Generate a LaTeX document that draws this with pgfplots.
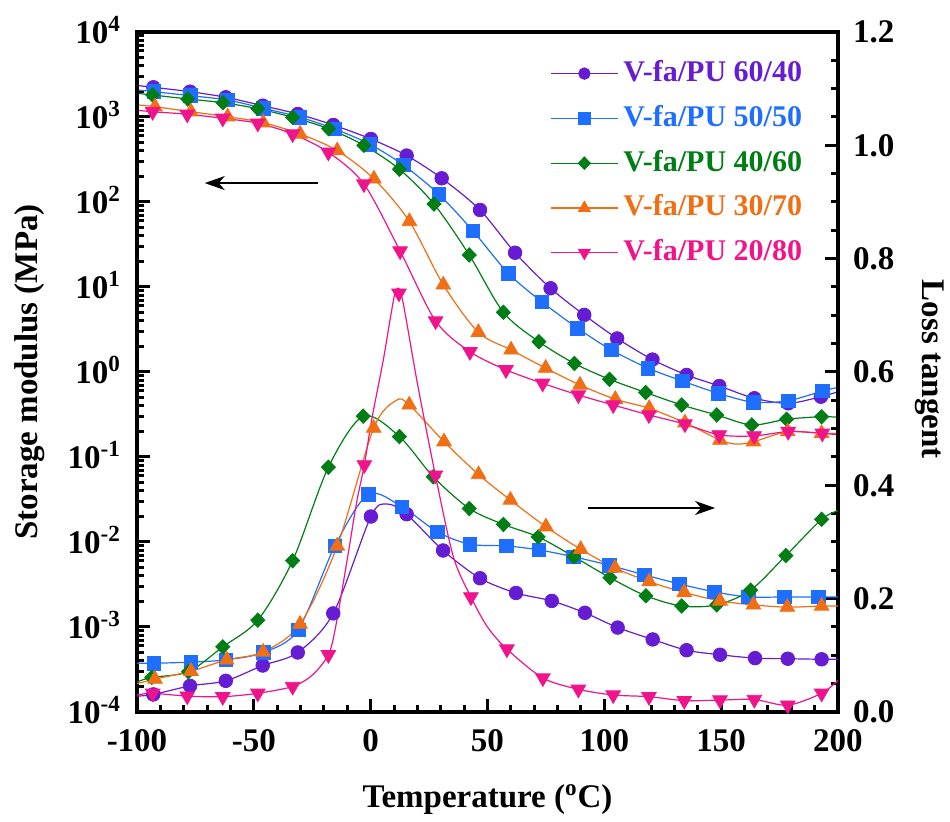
\documentclass[border=0pt]{standalone}
\usepackage{fontspec}
\setmainfont{Liberation Serif}
\usepackage{pgfplots}
\pgfplotsset{compat=1.18}
\usetikzlibrary{arrows.meta}
\definecolor{cpur}{RGB}{102,28,210}
\definecolor{cblu}{RGB}{30,110,255}
\definecolor{cgrn}{RGB}{0,125,20}
\definecolor{corg}{RGB}{240,110,20}
\definecolor{cpnk}{RGB}{240,20,140}
\begin{document}
\begin{tikzpicture}
\pgfplotsset{
  common/.style={
    scale only axis, width=350.5pt, height=340pt,
    xmin=-100, xmax=200,
    axis line style={line width=2pt},
    every tick/.style={black, line width=1.5pt},
    major tick length=6.5pt, minor tick length=3.5pt,
    tick align=inside,
    /pgf/number format/assume math mode=true,
    tick label style={font=\fontsize{16.5}{18}\selectfont\bfseries},
    legend image code/.code={\draw[mark repeat=2,mark phase=2] plot coordinates {(0pt,0pt)(16.75pt,0pt)(33.5pt,0pt)};},
  },
  sline/.style={line width=0.6pt, smooth, forget plot},
}
\begin{axis}[common,
  ymode=log, ymin=1e-4, ymax=1e4,
  xtick={-100,-50,0,50,100,150,200}, xticklabels={-100,-50,0,50,100,150,200},
  minor x tick num=4,
  xtick pos=bottom, ytick pos=left,
  ytick={1e-4,1e-3,1e-2,1e-1,1,1e1,1e2,1e3,1e4},
  yticklabels={10\textsuperscript{-4},10\textsuperscript{-3},10\textsuperscript{-2},10\textsuperscript{-1},10\textsuperscript{0},10\textsuperscript{1},10\textsuperscript{2},10\textsuperscript{3},10\textsuperscript{4}},
  minor ytick={2e-4,3e-4,4e-4,5e-4,6e-4,7e-4,8e-4,9e-4,2e-3,3e-3,4e-3,5e-3,6e-3,7e-3,8e-3,9e-3,2e-2,3e-2,4e-2,5e-2,6e-2,7e-2,8e-2,9e-2,0.2,0.3,0.4,0.5,0.6,0.7,0.8,0.9,2,3,4,5,6,7,8,9,20,30,40,50,60,70,80,90,200,300,400,500,600,700,800,900,2000,3000,4000,5000,6000,7000,8000,9000},
  xticklabel style={yshift=-5pt},
  yticklabel style={xshift=-4.5pt, yshift=1pt},
  xlabel={Temperature (\textsuperscript{o}C)},
  ylabel={Storage modulus (MPa)},
  every axis x label/.style={at={(axis description cs:0.5,-0.129)}, anchor=center, font=\fontsize{16.5}{18}\selectfont\bfseries},
  every axis y label/.style={at={(axis description cs:-0.1526,0.5)}, rotate=90, anchor=center, font=\fontsize{16.5}{18}\selectfont\bfseries},
  legend style={at={(axis description cs:0.589,0.96)}, anchor=north west, draw=none, fill=none, inner sep=0pt,
    font=\fontsize{15}{18}\selectfont\bfseries, row sep=8.4pt, column sep=2.5pt,
    nodes={inner sep=0pt, text height=11pt, text depth=3pt}},
  legend cell align=left,
]
% lines
\addplot[cpur, sline] coordinates {(-100,2350)(-93.0,2234)(-77.3,1985)(-62.0,1706)(-46.2,1358)(-31.2,1084)(-16.0,805)(0.1,551)(15.4,352)(30.4,190)(46.8,80.5)(61.8,25.3)(77.0,9.66)(91.4,4.69)(105.5,2.48)(120.6,1.40)(135.2,0.922)(149.2,0.684)(164.2,0.491)(178.7,0.428)(192.7,0.512)(200,0.586)};
\addplot[cblu, sline] coordinates {(-100,2080)(-92.7,1985)(-77.2,1782)(-61.4,1585)(-45.9,1265)(-30.2,991)(-15.3,722)(-0.3,477)(14.0,272)(29.2,123)(43.7,45.9)(58.9,14.5)(73.2,6.71)(88.6,3.27)(103.1,1.81)(118.7,1.11)(133.4,0.783)(148.8,0.561)(163.8,0.441)(178.7,0.459)(193.3,0.597)(200,0.66)};
\addplot[cgrn, sline] coordinates {(-100,1900)(-93.3,1815)(-78.3,1629)(-63.2,1472)(-48.3,1253)(-33.4,991)(-18.0,728)(-2.9,464)(12.3,243)(27.1,94.6)(42.2,23.8)(56.8,5.04)(72.0,2.27)(87.2,1.26)(102.2,0.820)(117.7,0.574)(133.1,0.409)(148.1,0.312)(163.1,0.238)(178.0,0.278)(193.0,0.298)(200,0.293)};
\addplot[corg, sline] coordinates {(-100,1390)(-92.3,1321)(-76.9,1153)(-61.2,1008)(-46.0,857)(-30.2,631)(-14.3,402)(1.4,187)(16.6,59.0)(31.1,10.6)(46.1,2.93)(60.1,1.82)(74.9,1.11)(89.6,0.703)(104.7,0.478)(119.2,0.374)(134.5,0.253)(149.5,0.158)(156.5,0.142)(163.8,0.151)(178.5,0.199)(193.0,0.190)(200,0.19)};
\addplot[cpnk, sline] coordinates {(-100,1200)(-93.3,1153)(-78.5,1077)(-63.3,966)(-48.3,843)(-33.4,631)(-18.1,384)(-2.9,163)(12.6,26.5)(27.8,3.98)(42.5,1.73)(57.9,1.06)(73.6,0.736)(88.9,0.536)(103.8,0.409)(119.1,0.312)(134.5,0.244)(149.2,0.182)(164.1,0.177)(178.7,0.199)(193.3,0.190)(200,0.182)};
% markers
\addplot[cpur, only marks, mark=*, mark size=3.4pt, forget plot] coordinates {(-93.0,2234)(-77.3,1985)(-62.0,1706)(-46.2,1358)(-31.2,1084)(-16.0,805)(0.1,551)(15.4,352)(30.4,190)(46.8,80.5)(61.8,25.3)(77.0,9.66)(91.4,4.69)(105.5,2.48)(120.6,1.40)(135.2,0.922)(149.2,0.684)(164.2,0.491)(178.7,0.428)(192.7,0.512)};
\addplot[cblu, only marks, mark=square*, mark size=3.4pt, forget plot] coordinates {(-92.7,1985)(-77.2,1782)(-61.4,1585)(-45.9,1265)(-30.2,991)(-15.3,722)(-0.3,477)(14.0,272)(29.2,123)(43.7,45.9)(58.9,14.5)(73.2,6.71)(88.6,3.27)(103.1,1.81)(118.7,1.11)(133.4,0.783)(148.8,0.561)(163.8,0.441)(178.7,0.459)(193.3,0.597)};
\addplot[cgrn, only marks, mark=diamond*, mark size=3.6pt, mark options={xscale=1.3}, forget plot] coordinates {(-93.3,1815)(-78.3,1629)(-63.2,1472)(-48.3,1253)(-33.4,991)(-18.0,728)(-2.9,464)(12.3,243)(27.1,94.6)(42.2,23.8)(56.8,5.04)(72.0,2.27)(87.2,1.26)(102.2,0.820)(117.7,0.574)(133.1,0.409)(148.1,0.312)(163.1,0.238)(178.0,0.278)(193.0,0.298)};
\addplot[corg, only marks, mark=triangle*, mark size=4.2pt, forget plot] coordinates {(-92.3,1321)(-76.9,1153)(-61.2,1008)(-46.0,857)(-30.2,631)(-14.3,402)(1.4,187)(16.6,59.0)(31.1,10.6)(46.1,2.93)(60.1,1.82)(74.9,1.11)(89.6,0.703)(104.7,0.478)(119.2,0.374)(134.5,0.253)(149.5,0.158)(163.8,0.151)(178.5,0.199)(193.0,0.190)};
\addplot[cpnk, only marks, mark=triangle*, mark size=4.2pt, mark options={rotate=180}, forget plot] coordinates {(-93.3,1153)(-78.5,1077)(-63.3,966)(-48.3,843)(-33.4,631)(-18.1,384)(-2.9,163)(12.6,26.5)(27.8,3.98)(42.5,1.73)(57.9,1.06)(73.6,0.736)(88.9,0.536)(103.8,0.409)(119.1,0.312)(134.5,0.244)(149.2,0.182)(164.1,0.177)(178.7,0.199)(193.3,0.190)};
% legend
\addlegendimage{cpur, line width=0.6pt, mark=*, mark size=2.8pt}
\addlegendentry{\textcolor{cpur}{V-fa/PU 60/40}}
\addlegendimage{cblu, line width=0.6pt, mark=square*, mark size=2.8pt}
\addlegendentry{\textcolor{cblu}{V-fa/PU 50/50}}
\addlegendimage{cgrn, line width=0.6pt, mark=diamond*, mark size=3pt, mark options={xscale=1.3}}
\addlegendentry{\textcolor{cgrn}{V-fa/PU 40/60}}
\addlegendimage{corg, line width=0.6pt, mark=triangle*, mark size=3.2pt}
\addlegendentry{\textcolor{corg}{V-fa/PU 30/70}}
\addlegendimage{cpnk, line width=0.6pt, mark=triangle*, mark size=3.2pt, mark options={rotate=180}}
\addlegendentry{\textcolor{cpnk}{V-fa/PU 20/80}}
\draw[line width=0.6pt, -{Stealth[length=10pt,width=7pt,inset=3pt]}] (axis cs:-22.5,167) -- (axis cs:-71,167);
\end{axis}
\begin{axis}[common,
  ymin=0, ymax=1.2,
  hide x axis,
  ytick pos=right, yticklabel pos=right,
  ytick={0,0.2,0.4,0.6,0.8,1.0,1.2},
  yticklabels={0.0,0.2,0.4,0.6,0.8,1.0,1.2},
  minor y tick num=3,
  yticklabel style={xshift=4pt},
  ylabel={Loss tangent},
  every axis y label/.style={at={(axis description cs:1.131,0.504)}, rotate=-90, anchor=center, font=\fontsize{16.5}{18}\selectfont\bfseries},
]
\addplot[cpur, sline] coordinates {(-100,0.028)(-93.0,0.031)(-77.3,0.046)(-62.0,0.055)(-46.2,0.082)(-31.2,0.105)(-16.0,0.174)(0.1,0.345)(7,0.367)(15.4,0.349)(31.0,0.285)(46.8,0.236)(62.2,0.210)(77.5,0.196)(91.7,0.175)(105.7,0.149)(120.7,0.128)(135.2,0.109)(149.5,0.101)(164.5,0.095)(178.5,0.094)(193.0,0.093)(200,0.093)};
\addplot[cblu, sline] coordinates {(-100,0.086)(-92.7,0.086)(-77.0,0.088)(-62.0,0.092)(-45.9,0.105)(-31.0,0.145)(-15.3,0.293)(-1.0,0.384)(13.4,0.362)(28.5,0.318)(42.5,0.296)(58.2,0.293)(72.0,0.286)(86.7,0.274)(102.1,0.259)(117.1,0.242)(132.1,0.226)(147.1,0.212)(161.6,0.203)(177.0,0.203)(191.6,0.203)(200,0.203)};
\addplot[cgrn, sline] coordinates {(-100,0.053)(-93.7,0.061)(-78.0,0.071)(-63.3,0.115)(-48.3,0.162)(-33.4,0.267)(-18.1,0.432)(-3.2,0.522)(12.3,0.486)(26.8,0.415)(42.2,0.359)(56.8,0.331)(71.7,0.309)(87.0,0.274)(102.4,0.237)(117.8,0.205)(133.1,0.187)(148.1,0.189)(162.6,0.215)(177.7,0.276)(193.0,0.340)(200,0.355)};
\addplot[corg, sline] coordinates {(-100,0.05)(-92.3,0.058)(-76.9,0.072)(-61.6,0.092)(-46.0,0.106)(-30.2,0.155)(-14.3,0.293)(1.3,0.501)(11,0.550)(16.5,0.542)(31.4,0.477)(46.2,0.419)(59.8,0.374)(75.0,0.327)(89.9,0.287)(104.6,0.254)(119.2,0.230)(134.2,0.211)(149.5,0.196)(163.8,0.189)(178.3,0.185)(193.0,0.187)(200,0.187)};
\addplot[cpnk, sline] coordinates {(-100,0.030)(-93.3,0.033)(-78.5,0.028)(-63.3,0.027)(-48.3,0.033)(-33.4,0.045)(-25,0.065)(-18.1,0.101)(-15,0.15)(-10,0.27)(-6,0.37)(-2.7,0.436)(0.4,0.515)(5.4,0.621)(9,0.709)(11,0.746)(13.5,0.73)(20,0.58)(27.7,0.418)(35.4,0.274)(42.9,0.203)(50,0.150)(58.3,0.111)(73.7,0.060)(88.9,0.040)(103.8,0.030)(119.1,0.027)(134.2,0.020)(149.5,0.021)(164.2,0.022)(178.5,0.012)(193.0,0.033)(200,0.056)};
\addplot[cpur, only marks, mark=*, mark size=3.4pt, forget plot] coordinates {(-93.0,0.031)(-77.3,0.046)(-62.0,0.055)(-46.2,0.082)(-31.2,0.105)(-16.0,0.174)(0.1,0.345)(15.4,0.349)(31.0,0.285)(46.8,0.236)(62.2,0.210)(77.5,0.196)(91.7,0.175)(105.7,0.149)(120.7,0.128)(135.2,0.109)(149.5,0.101)(164.5,0.095)(178.5,0.094)(193.0,0.093)};
\addplot[cblu, only marks, mark=square*, mark size=3.4pt, forget plot] coordinates {(-92.7,0.086)(-77.0,0.088)(-62.0,0.092)(-45.9,0.105)(-31.0,0.145)(-15.3,0.293)(-1.0,0.384)(13.4,0.362)(28.5,0.318)(42.5,0.296)(58.2,0.293)(72.0,0.286)(86.7,0.274)(102.1,0.259)(117.1,0.242)(132.1,0.226)(147.1,0.212)(161.6,0.203)(177.0,0.203)(191.6,0.203)};
\addplot[cgrn, only marks, mark=diamond*, mark size=3.6pt, mark options={xscale=1.3}, forget plot] coordinates {(-93.7,0.061)(-78.0,0.071)(-63.3,0.115)(-48.3,0.162)(-33.4,0.267)(-18.1,0.432)(-3.2,0.522)(12.3,0.486)(26.8,0.415)(42.2,0.359)(56.8,0.331)(71.7,0.309)(87.0,0.274)(102.4,0.237)(117.8,0.205)(133.1,0.187)(148.1,0.189)(162.6,0.215)(177.7,0.276)(193.0,0.340)};
\addplot[corg, only marks, mark=triangle*, mark size=4.2pt, forget plot] coordinates {(-92.3,0.058)(-76.9,0.072)(-61.6,0.092)(-46.0,0.106)(-30.2,0.155)(-14.3,0.293)(1.3,0.501)(16.5,0.542)(31.4,0.477)(46.2,0.419)(59.8,0.374)(75.0,0.327)(89.9,0.287)(104.6,0.254)(119.2,0.230)(134.2,0.211)(149.5,0.196)(163.8,0.189)(178.3,0.185)(193.0,0.187)};
\addplot[cpnk, only marks, mark=triangle*, mark size=4.2pt, mark options={rotate=180}, forget plot] coordinates {(-93.3,0.033)(-78.5,0.028)(-63.3,0.027)(-48.3,0.033)(-33.4,0.045)(-18.1,0.101)(-2.7,0.436)(12.1,0.739)(27.7,0.418)(42.9,0.203)(58.3,0.111)(73.7,0.060)(88.9,0.040)(103.8,0.030)(119.1,0.027)(134.2,0.020)(149.5,0.021)(164.2,0.022)(178.5,0.012)(193.0,0.033)};
\draw[line width=0.6pt, -{Stealth[length=10pt,width=7pt,inset=3pt]}] (axis cs:93,0.36) -- (axis cs:147.4,0.36);
\end{axis}
\pgfresetboundingbox
\path[use as bounding box] (-68.5pt,-55pt) rectangle (406.5pt,356pt);
\end{tikzpicture}
\end{document}
